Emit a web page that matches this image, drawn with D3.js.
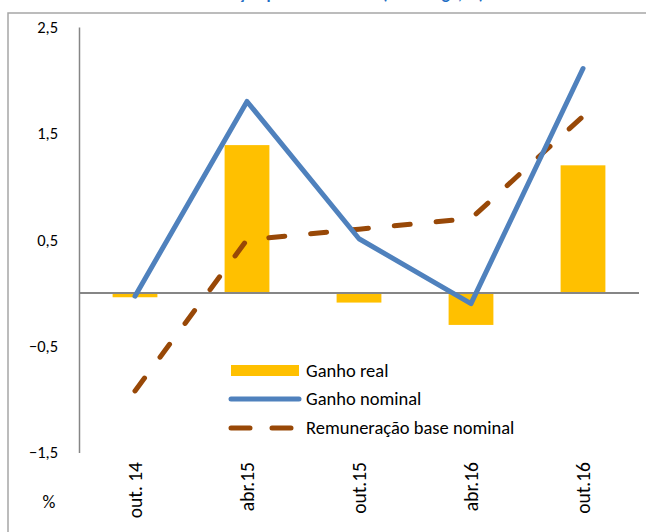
<!DOCTYPE html>
<html>
<head>
<meta charset="utf-8">
<script src="https://cdn.jsdelivr.net/npm/d3@7"></script>
<style>
    body { margin: 0; background: #fff; }
    text { font-family: Carlito, Calibri, Lato, sans-serif; }
</style>
</head>
<body>
<div id="chart"></div>
<script>

//-------------------------------------------------------//
//                      DATA                             //
//-------------------------------------------------------//

var categories = ["out. 14", "abr.15", "out.15", "abr.16", "out.16"];
var ganhoReal = [-0.04, 1.39, -0.09, -0.3, 1.2];
var ganhoNominal = [-0.03, 1.8, 0.51, -0.1, 2.11];
var remuneracaoBase = [-0.92, 0.5, 0.6, 0.7, 1.66];
var yTicks = [-1.5, -0.5, 0.5, 1.5, 2.5];
var legendLabels = ["Ganho real", "Ganho nominal", "Remuneração base nominal"];

//-------------------------------------------------------//
//                DEFINE SVG AREA                        //
//-------------------------------------------------------//

var svgWidth = 646;
var svgHeight = 532;

var plot = { left: 79, right: 639, top: 27, bottom: 452.6 };

var svg = d3.select("#chart")
    .append("svg")
    .attr("width", svgWidth)
    .attr("height", svgHeight);

// outer frame of the chart (cropped on the right and bottom)
svg.append("rect")
    .attr("x", 8)
    .attr("y", 13)
    .attr("width", 700)
    .attr("height", 600)
    .attr("fill", "none")
    .attr("stroke", "#a6a6a6")
    .attr("stroke-width", 1.5);

// title, cut off at the top edge like in the source picture
svg.append("text")
    .attr("x", 343)
    .attr("y", -1)
    .attr("text-anchor", "middle")
    .attr("font-size", 17)
    .attr("font-weight", "bold")
    .attr("fill", "#1f6fc5")
    .text("Variação por trabalhador (homóloga, %)");

//-------------------------------------------------------//
//                     SCALES                            //
//-------------------------------------------------------//

var xScale = d3.scaleBand()
    .domain(categories)
    .range([plot.left, plot.right])
    .paddingInner(0.6)
    .paddingOuter(0.3);

var yScale = d3.scaleLinear()
    .domain([-1.5, 2.5])
    .range([plot.bottom, plot.top]);

var fmt = d => d3.format(".1f")(d).replace(".", ",");

//-------------------------------------------------------//
//                      AXES                             //
//-------------------------------------------------------//

var leftAxis = d3.axisLeft(yScale)
    .tickValues(yTicks)
    .tickFormat(fmt)
    .tickSize(0)
    .tickPadding(21);

var yAxis = svg.append("g")
    .attr("transform", `translate(${plot.left}, 0)`)
    .call(leftAxis);

yAxis.select(".domain")
    .attr("stroke", "#868686")
    .attr("stroke-width", 1.5);

yAxis.selectAll("text")
    .attr("font-size", 16.5)
    .attr("fill", "#000")
    .style("font-family", "Carlito, Calibri, Lato, sans-serif");

// category labels, rotated
var bottomAxis = d3.axisBottom(xScale).tickSize(0);

var xAxis = svg.append("g")
    .attr("transform", `translate(0, ${yScale(0)})`)
    .call(bottomAxis);

xAxis.select(".domain").remove();

xAxis.selectAll("text")
    .attr("transform", "rotate(-90)")
    .attr("text-anchor", "end")
    .attr("x", -(462 - yScale(0)))
    .attr("y", 0)
    .attr("dy", "0.35em")
    .attr("font-size", 19.5)
    .attr("fill", "#000")
    .style("font-family", "Carlito, Calibri, Lato, sans-serif");

svg.append("text")
    .attr("x", 49)
    .attr("y", 502)
    .attr("dy", "0.35em")
    .attr("text-anchor", "middle")
    .attr("font-size", 18)
    .text("%");

//-------------------------------------------------------//
//                  BARS AND LINES                       //
//-------------------------------------------------------//

svg.selectAll(".bar")
    .data(ganhoReal)
    .enter()
    .append("rect")
    .attr("class", "bar")
    .attr("x", (d, i) => xScale(categories[i]))
    .attr("y", d => yScale(Math.max(0, d)))
    .attr("width", xScale.bandwidth())
    .attr("height", d => Math.abs(yScale(d) - yScale(0)))
    .attr("fill", "#FFC000");

// zero line
svg.append("line")
    .attr("x1", plot.left)
    .attr("x2", plot.right)
    .attr("y1", yScale(0))
    .attr("y2", yScale(0))
    .attr("stroke", "#868686")
    .attr("stroke-width", 2);

var lineGen = d3.line()
    .x((d, i) => xScale(categories[i]) + xScale.bandwidth() / 2)
    .y(d => yScale(d));

svg.append("path")
    .datum(remuneracaoBase)
    .attr("d", lineGen)
    .attr("fill", "none")
    .attr("stroke", "#984807")
    .attr("stroke-width", 5)
    .attr("stroke-linecap", "round")
    .attr("stroke-dasharray", "16,26");

svg.append("path")
    .datum(ganhoNominal)
    .attr("d", lineGen)
    .attr("fill", "none")
    .attr("stroke", "#4F81BD")
    .attr("stroke-width", 5)
    .attr("stroke-linecap", "round")
    .attr("stroke-linejoin", "round");

//-------------------------------------------------------//
//                      LEGEND                           //
//-------------------------------------------------------//

var legend = svg.append("g");
var legendY = [371, 399, 428];

legend.append("rect")
    .attr("x", 231)
    .attr("y", legendY[0] - 6)
    .attr("width", 68)
    .attr("height", 11)
    .attr("fill", "#FFC000");

legend.append("line")
    .attr("x1", 231).attr("x2", 299)
    .attr("y1", legendY[1]).attr("y2", legendY[1])
    .attr("stroke", "#4F81BD")
    .attr("stroke-width", 5)
    .attr("stroke-linecap", "round");

legend.append("line")
    .attr("x1", 231).attr("x2", 299)
    .attr("y1", legendY[2]).attr("y2", legendY[2])
    .attr("stroke", "#984807")
    .attr("stroke-width", 5)
    .attr("stroke-linecap", "round")
    .attr("stroke-dasharray", "19,22");

legend.selectAll(".legend-label")
    .data(legendLabels)
    .enter()
    .append("text")
    .attr("class", "legend-label")
    .attr("x", 306)
    .attr("y", (d, i) => legendY[i])
    .attr("dy", "0.35em")
    .attr("font-size", 18.5)
    .attr("fill", "#000")
    .text(d => d);

</script>
</body>
</html>
